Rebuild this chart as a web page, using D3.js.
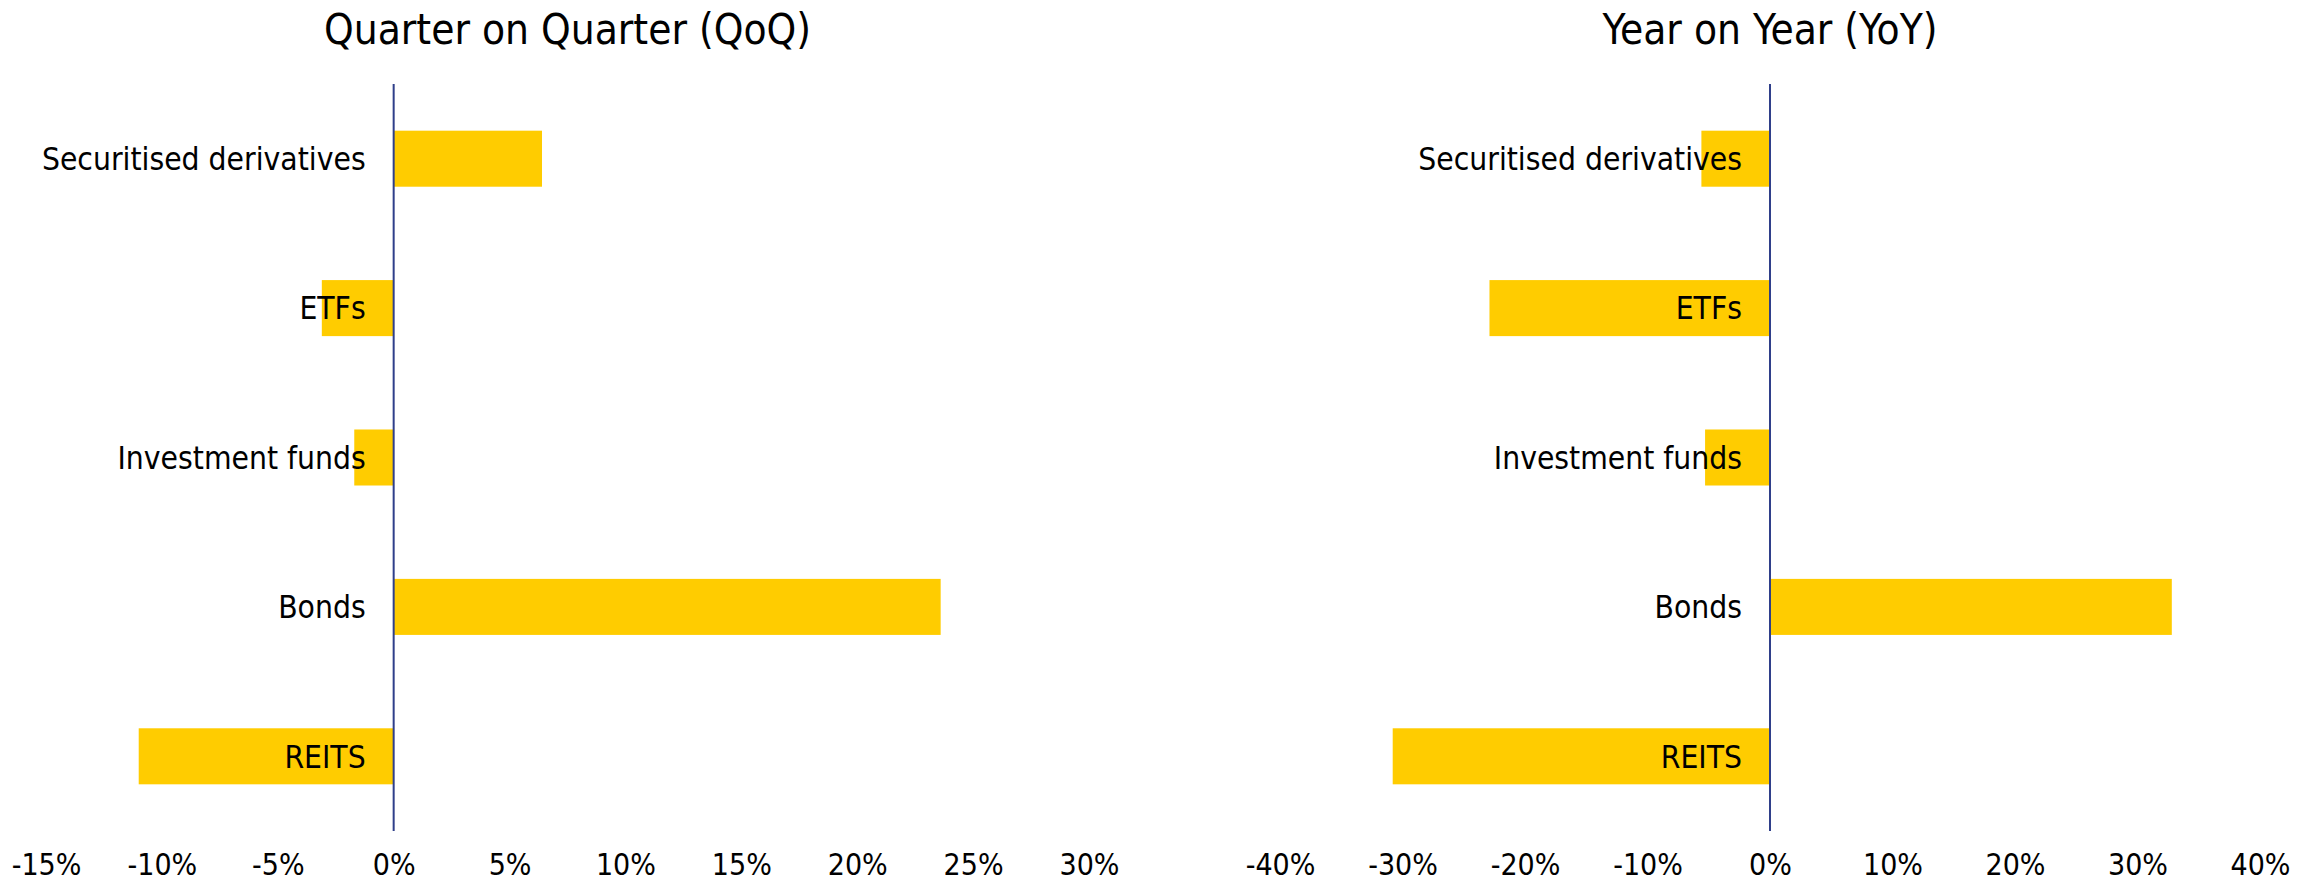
<!DOCTYPE html>
<html>
<head>
<meta charset="utf-8">
<script src="https://cdn.jsdelivr.net/npm/d3@7"></script>
<style>
  body { margin: 0; background: #fff; }
  svg text { font-family: "DejaVu Sans", sans-serif; font-stretch: condensed; fill: #000; }
</style>
</head>
<body>
<svg id="chart"></svg>
<script>
// categories, top to bottom
var categories = ["Securitised derivatives", "ETFs", "Investment funds", "Bonds", "REITS"];
// % change
var qoqValues = [6.4, -3.1, -1.7, 23.6, -11.0];
var yoyValues = [-5.6, -22.9, -5.3, 32.8, -30.8];
var qoqTicks = [-15, -10, -5, 0, 5, 10, 15, 20, 25, 30];
var yoyTicks = [-40, -30, -20, -10, 0, 10, 20, 30, 40];

var W = 2318, H = 889;
var svg = d3.select("#chart").attr("width", W).attr("height", H);

var y = d3.scaleBand().domain(categories).range([84, 831])
	.paddingInner(0.625).paddingOuter(0.3125);

function drawPanel(title, values, ticks, x0, x1){
	var x = d3.scaleLinear().domain([ticks[0], ticks[ticks.length-1]]).range([x0, x1]);
	var g = svg.append("g");

	g.append("text")
		.attr("x", (x0 + x1) / 2).attr("y", 44)
		.attr("text-anchor", "middle")
		.style("font-size", "42px")
		.text(title);

	g.selectAll("rect.bar").data(values).enter().append("rect")
		.attr("class", "bar")
		.attr("x", function(d){ return x(Math.min(0, d)); })
		.attr("y", function(d, i){ return y(categories[i]); })
		.attr("width", function(d){ return Math.abs(x(d) - x(0)); })
		.attr("height", y.bandwidth())
		.attr("fill", "#FFCC00");

	g.append("line")
		.attr("x1", x(0)).attr("x2", x(0))
		.attr("y1", 84).attr("y2", 831)
		.attr("stroke", "#2F3F8A").attr("stroke-width", 2);

	// labels sit on top of the bars
	g.selectAll("text.cat").data(categories).enter().append("text")
		.attr("class", "cat")
		.attr("x", x(0) - 28)
		.attr("y", function(d){ return y(d) + y.bandwidth() / 2; })
		.attr("dy", "0.36em")
		.attr("text-anchor", "end")
		.style("font-size", "31.5px")
		.text(function(d){ return d; });

	var axis = d3.axisBottom(x).tickValues(ticks).tickSize(0).tickPadding(23)
		.tickFormat(function(d){ return d + "%"; });
	var ax = g.append("g").attr("transform", "translate(0,831)").call(axis);
	ax.select(".domain").remove();
	ax.selectAll("text").style("font-size", "30px")
		.style("font-family", "DejaVu Sans, sans-serif").style("font-stretch", "condensed");
}

drawPanel("Quarter on Quarter (QoQ)", qoqValues, qoqTicks, 46, 1089);
drawPanel("Year on Year (YoY)", yoyValues, yoyTicks, 1280, 2260);
</script>
</body>
</html>
